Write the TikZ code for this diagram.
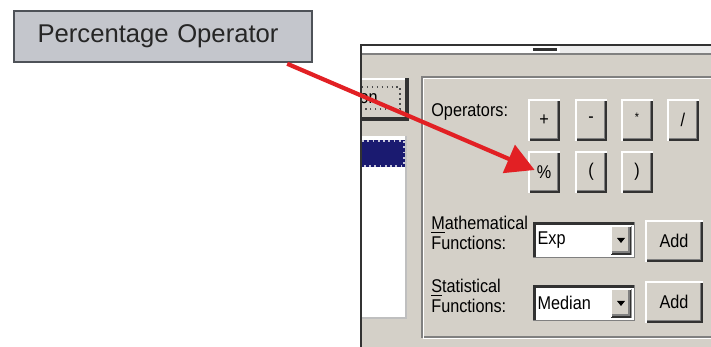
\documentclass[tikz,border=0pt]{standalone}
\usepackage{fontspec}
\setmainfont{Liberation Sans}
\newfontfamily\dlgfont[FakeStretch=0.88]{Liberation Sans}
\usetikzlibrary{arrows.meta,calc}

\definecolor{dlgface}{RGB}{212,208,200}
\definecolor{dlgshade}{RGB}{128,128,128}
\definecolor{dlgdark}{RGB}{50,50,50}
\definecolor{tagfill}{RGB}{196,198,204}
\definecolor{tagline}{RGB}{78,82,88}
\definecolor{pointred}{RGB}{226,32,36}
\definecolor{selnavy}{RGB}{26,26,112}

% raised windows button, light top/left and dark bottom/right
\tikzset{
  raised/.style={fill=dlgface, inner sep=0pt,
    font=\dlgfont\fontsize{10.5}{12}\selectfont,
    path picture={
      \draw[dlgshade, line width=3.4pt] (path picture bounding box.south west) -| (path picture bounding box.north east);
      \draw[dlgdark, line width=1.7pt] (path picture bounding box.south west) -| (path picture bounding box.north east);
      \draw[white, line width=1.7pt] (path picture bounding box.south west) |- (path picture bounding box.north east);
    }},
  sunken/.style={fill=white, inner sep=0pt,
    path picture={
      \draw[dlgshade, line width=1.7pt] (path picture bounding box.south west) |- (path picture bounding box.north east);
      \draw[dlgdark, line width=3.4pt] (path picture bounding box.south west) |- (path picture bounding box.north east);
      \draw[dlgshade, line width=1.2pt] (path picture bounding box.south west) -| (path picture bounding box.north east);
    }},
  opbtn/.style={raised, minimum width=18.2pt, minimum height=23.5pt},
  addbtn/.style={raised, minimum width=32.9pt, minimum height=23.8pt},
  dropbtn/.style={raised, minimum width=11.9pt, minimum height=16.4pt},
  combo/.style={sunken, minimum width=57.8pt, minimum height=20pt},
  dlglabel/.style={inner sep=0pt, align=left,
    font=\dlgfont\fontsize{10.5}{11.3}\selectfont},
  tag/.style={draw=tagline, line width=1pt, fill=tagfill,
    inner xsep=13.6pt, text width=142.8pt, align=left,
    minimum height=28.9pt,
    font=\fontsize{14.6}{16}\selectfont, text=black!85},
  pointer/.style={draw=pointred, line width=2.4pt,
    -{Triangle[length=16pt,width=17pt]}},
}

\begin{document}
\begin{tikzpicture}[x=0.02cm,y=-0.02cm]
\useasboundingbox (0,0) rectangle (711,347);

% dialog window
\fill[dlgface] (361,45) rectangle (711,347);
\fill[white] (362,46) rectangle (560,53);
\fill[black!8] (560,46) rectangle (711,53);
\draw[dlgshade, line width=0.6pt] (362,54) -- (711,54);
\draw[dlgdark, line width=1.2pt] (533,49.5) -- (557,49.5);
\draw[dlgdark, line width=1.3pt] (711,45) -- (361,45) -- (361,347);

% clipped button on the left
\fill[dlgface] (362,78) rectangle (408,120);
\draw[white, line width=1pt] (362,79) -- (407,79);
\draw[dlgdark, line width=2pt] (362,119) -- (407,119) -- (407,78);
\draw[black!70, dotted, line width=0.8pt] (362,87) -| (400,109) -- (362,109);
\begin{scope}
  \clip (362,80) rectangle (400,115);
  \node[dlglabel, anchor=east] (cutlabel) at (378,99) {on};
\end{scope}

% list box with selected entry
\fill[white] (362,136) rectangle (406,318);
\draw[black!25, line width=0.8pt] (406,136) -- (406,318) -- (362,318);
\fill[selnavy] (362,140) rectangle (405,167);
\draw[white!75!selnavy, dotted, line width=1pt] (362,141) -| (404,166) -- (362,166);

% etched frame of the group
\draw[dlgshade, line width=0.9pt] (711,77) -| (422,337) -- (711,337);
\draw[white, line width=0.9pt] (711,78.5) -| (423.5,338.5) -- (711,338.5);

% operator buttons
\node[dlglabel, anchor=west] (oplabel) at (431,112) {Operators:};
\node[opbtn] (btnplus) at (544,120) {+};
\node[opbtn] (btnminus) at (591,120) {-};
\node[opbtn] (btntimes) at (637,120) {\raisebox{3pt}{\scriptsize *}};
\node[opbtn] (btndiv) at (683,120) {/};
\node[opbtn] (btnpct) at (544,172) {\%};
\node[opbtn] (btnopen) at (591,172) {(};
\node[opbtn] (btnclose) at (637,172) {)};

% mathematical functions
\node[dlglabel, anchor=west] (mathlabel) at (431,233) {\underline{M}athematical\\Functions:};
\node[combo] (mathcombo) at (584,240) {};
\node[dlglabel, anchor=west] (mathsel) at ([xshift=2.5pt]mathcombo.west) {Exp};
\node[dropbtn] (mathdrop) at (621,240) {};
\fill ($(mathdrop.center)+(-4,-2)$) -- ++(8,0) -- ++(-4,5) -- cycle;
\node[addbtn] (mathadd) at (674,241) {Add};

% statistical functions
\node[dlglabel, anchor=west] (statlabel) at (431,296) {\underline{S}tatistical\\Functions:};
\node[combo] (statcombo) at (584,303) {};
\node[dlglabel, anchor=west] (statsel) at ([xshift=2.5pt]statcombo.west) {Median};
\node[dropbtn] (statdrop) at (621,303) {};
\fill ($(statdrop.center)+(-4,-2)$) -- ++(8,0) -- ++(-4,5) -- cycle;
\node[addbtn] (statadd) at (674,302) {Add};

% callout
\node[tag] (pctlabel) at (163,36.5) {Percentage Operator};
\draw[pointer] ($(pctlabel.south east)+(-26,1)$) -- ($(btnpct.west)+(7,-2)$);
\end{tikzpicture}
\end{document}
